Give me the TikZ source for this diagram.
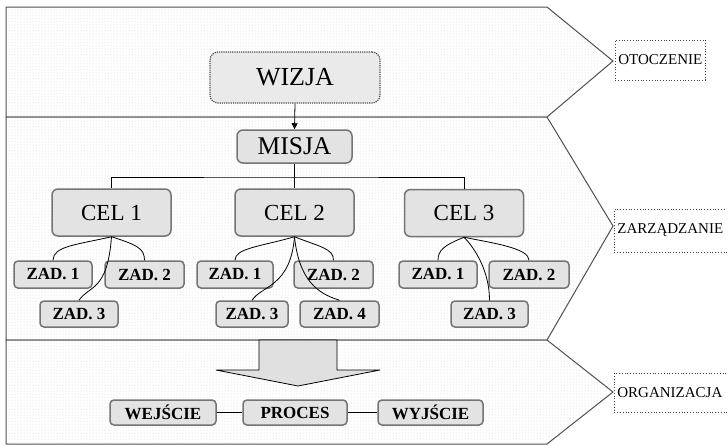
\documentclass[tikz,border=0pt]{standalone}
\usepackage{fontspec}
\setmainfont{Liberation Serif}
\usetikzlibrary{patterns,arrows.meta}

\definecolor{bandline}{HTML}{505050}
\definecolor{boxline}{HTML}{747474}
\definecolor{boxfill}{HTML}{E3E3E3}
\definecolor{visionfill}{HTML}{EAEAEA}
\definecolor{dotgray}{HTML}{D8D8D8}
\definecolor{arrowfill}{HTML}{E0E0E0}

\newcommand\fsz[1]{\fontsize{#1}{#1}\selectfont}

\begin{document}
\begin{tikzpicture}[x=1pt,y=-1pt,
  band/.style={draw=bandline, line width=1pt, line join=miter,
    pattern=dots, pattern color=dotgray, preaction={fill=white}},
  rbox/.style={draw=boxline, line width=1.5pt, fill=boxfill, rounded corners=6pt,
    inner sep=0pt},
  bigbox/.style={rbox, minimum width=119pt, minimum height=47pt, font=\fsz{23}},
  zadbox/.style={rbox, rounded corners=4pt, minimum height=27pt,
    font=\fsz{17}\bfseries},
  flowbox/.style={zadbox, minimum height=25pt},
  tagbox/.style={draw=black!75, dotted, line width=0.8pt, fill=white, anchor=west,
    inner xsep=3pt, inner ysep=0pt, align=left, font=\fsz{15}},
  conn/.style={draw=black, line width=0.8pt},
]
\useasboundingbox (0,0) rectangle (727,445);

% three chevron bands
\path[band] (6,7) -- (547,7) -- (613,61) -- (547,117) -- (6,117) -- cycle;
\path[band] (6,117) -- (547,117) -- (613,226) -- (547,340) -- (6,340) -- cycle;
\path[band] (6,340) -- (547,340) -- (613,392) -- (547,444) -- (6,444) -- cycle;

% side labels
\node[tagbox, minimum height=40pt] (otoczenie) at (615,60) {OTOCZENIE};
\node[tagbox, minimum height=43pt, text width=120pt] (zarzadzanie) at (614,230.5) {ZARZĄDZANIE};
\node[tagbox, minimum height=39pt, text width=120pt] (organizacja) at (614,392.5) {ORGANIZACJA};

% vision and mission
\node[draw=black!70, densely dotted, line width=1.2pt, fill=visionfill,
  rounded corners=8pt, minimum width=170pt, minimum height=51pt, inner sep=0pt,
  font=\fsz{26}] (wizja) at (295,77.5) {WIZJA};
\node[rbox, minimum width=115pt, minimum height=33pt, font=\fsz{25.5}] (misja) at (294.5,146.5) {MISJA};
\draw[line width=0.8pt, -{Triangle[length=6pt,width=6pt]}] (wizja.south) -- (misja.north);

% goals
\node[bigbox] (c1) at (111.5,212.5) {CEL 1};
\node[bigbox] (c2) at (294.5,212.5) {CEL 2};
\node[bigbox] (c3) at (464,213) {CEL 3};
\coordinate (bar) at (294.5,177);
\draw[conn] (c1.north) |- (bar) -| (c3.north);
\draw[conn] (misja.south) -- (c2.north);

% tasks
\node[zadbox, minimum width=78pt] (c1z1) at (53,274.5) {ZAD. 1};
\node[zadbox, minimum width=79pt] (c1z2) at (144.5,274.5) {ZAD. 2};
\node[zadbox, minimum width=78pt, minimum height=26pt] (c1z3) at (79,314) {ZAD. 3};
\node[zadbox, minimum width=76pt] (c2z1) at (235,274.5) {ZAD. 1};
\node[zadbox, minimum width=79pt] (c2z2) at (333.5,274.5) {ZAD. 2};
\node[zadbox, minimum width=72pt, minimum height=26pt] (c2z3) at (252,314) {ZAD. 3};
\node[zadbox, minimum width=79pt, minimum height=26pt] (c2z4) at (339.5,314) {ZAD. 4};
\node[zadbox, minimum width=78pt] (c3z1) at (438,274.5) {ZAD. 1};
\node[zadbox, minimum width=80pt] (c3z2) at (529,274.5) {ZAD. 2};
\node[zadbox, minimum width=77pt, minimum height=26pt] (c3z3) at (489.5,314) {ZAD. 3};

% curved task links
\draw[conn] (c1.south) .. controls +(-35,8) and +(0,-14) .. (c1z1.north);
\draw[conn] (c1.south) .. controls +(25,8) and +(0,-12) .. (c1z2.north);
\draw[conn] (c1.south) .. controls +(-4,55) and +(10,-15) .. (c1z3.north);
\draw[conn] (c2.south) .. controls +(-35,10) and +(0,-12) .. (c2z1.north);
\draw[conn] (c2.south) .. controls +(25,10) and +(0,-12) .. (c2z2.north);
\draw[conn] (c2.south) .. controls +(-4,50) and +(10,-15) .. (c2z3.north);
\draw[conn] (c2.south) .. controls +(5,50) and +(-15,-5) .. (c2z4.north);
\draw[conn] (c3.south) .. controls +(-20,8) and +(0,-10) .. (c3z1.north);
\draw[conn] (c3.south) .. controls +(30,6) and +(0,-12) .. (c3z2.north);
\draw[conn] (c3.south) .. controls +(10,10) and +(0,-30) .. (c3z3.north);

% block arrow into the organisation band
\draw[line width=0.8pt, fill=arrowfill, line join=miter]
  (259,340) -- (337,340) -- (337,370) -- (380,370) -- (298,386)
  -- (216,370) -- (259,370) -- cycle;

% input - process - output
\node[flowbox, minimum width=106pt] (wej) at (163,412.5) {WEJŚCIE};
\node[flowbox, minimum width=104pt] (proc) at (295,412.5) {PROCES};
\node[flowbox, minimum width=105pt] (wyj) at (430.5,412.5) {WYJŚCIE};
\draw[conn] (wej.east) -- (proc.west);
\draw[conn] (proc.east) -- (wyj.west);
\end{tikzpicture}
\end{document}
